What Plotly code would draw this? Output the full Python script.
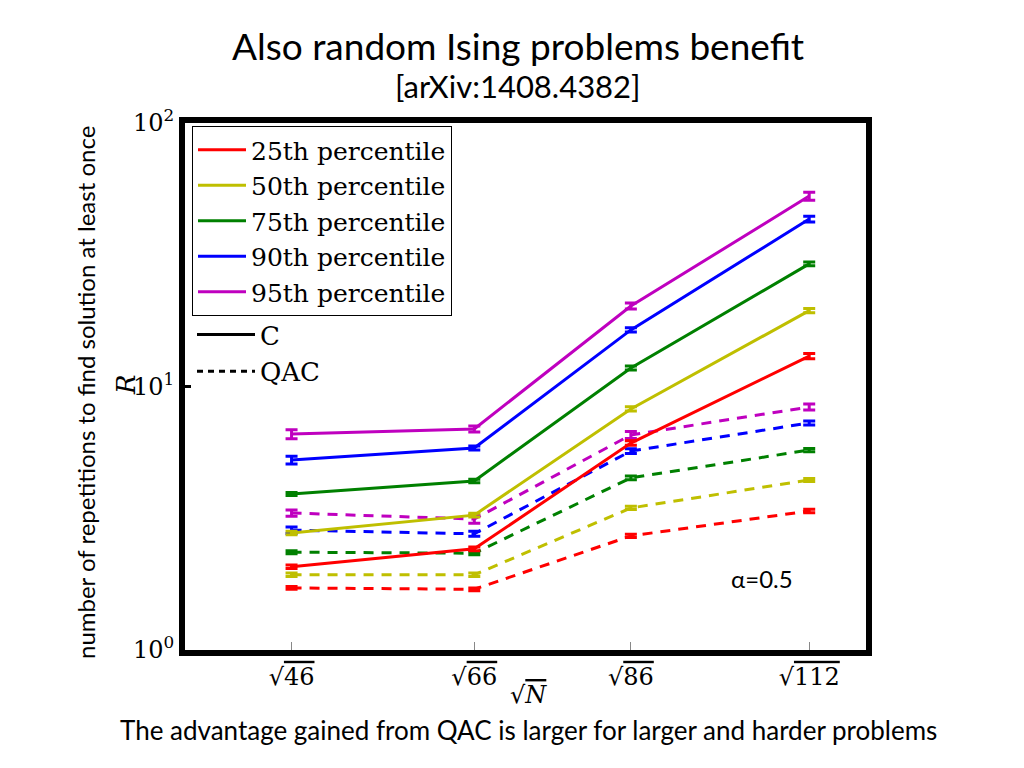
import numpy as np
import plotly.graph_objects as go

# ---- data ----
N_values = [46, 66, 86, 112]
tick_numbers = ["46", "66", "86", "112"]
percentiles = ["25th percentile", "50th percentile", "75th percentile", "90th percentile", "95th percentile"]
colors = ["#ff0000", "#bfbf00", "#008000", "#0000ff", "#bf00bf"]

C_25 = [2.07, 2.42, 6.1, 13.05]
C_50 = [2.78, 3.25, 8.22, 19.4]
C_75 = [3.91, 4.38, 11.75, 29.2]
C_90 = [5.26, 5.84, 16.4, 43.2]
C_95 = [6.6, 6.9, 20.2, 52.8]

C_25_err = [0.03, 0.04, 0.12, 0.3]
C_50_err = [0.04, 0.05, 0.15, 0.35]
C_75_err = [0.05, 0.07, 0.2, 0.5]
C_90_err = [0.18, 0.1, 0.3, 1.1]
C_95_err = [0.26, 0.18, 0.53, 1.85]

QAC_25 = [1.72, 1.70, 2.71, 3.37]
QAC_50 = [1.93, 1.93, 3.46, 4.42]
QAC_75 = [2.35, 2.33, 4.5, 5.74]
QAC_90 = [2.85, 2.76, 5.69, 7.27]
QAC_95 = [3.31, 3.14, 6.55, 8.36]

QAC_25_err = [0.02, 0.02, 0.04, 0.05]
QAC_50_err = [0.03, 0.03, 0.05, 0.06]
QAC_75_err = [0.03, 0.03, 0.07, 0.08]
QAC_90_err = [0.08, 0.06, 0.12, 0.13]
QAC_95_err = [0.09, 0.11, 0.2, 0.22]

C_series = [C_25, C_50, C_75, C_90, C_95]
C_errs = [C_25_err, C_50_err, C_75_err, C_90_err, C_95_err]
QAC_series = [QAC_25, QAC_50, QAC_75, QAC_90, QAC_95]
QAC_errs = [QAC_25_err, QAC_50_err, QAC_75_err, QAC_90_err, QAC_95_err]

x = np.sqrt(N_values)
OVL = "<span style='text-decoration:overline'>{}</span>"
tick_labels = ["√" + OVL.format(n) for n in tick_numbers]

SERIF = "DejaVu Serif"
SANS = "Lato"

# page has an 8px body margin; figure is sized so it fits the 1024x768 window
OFF = 8
W, H = 1024 - 2 * OFF, 768 - 2 * OFF
L, R, T, B = 185 - OFF, W - (866 - OFF), 123 - OFF, H - (650 - OFF)

fig = go.Figure()

for name, col, ys, es in zip(percentiles, colors, QAC_series, QAC_errs):
    fig.add_trace(go.Scatter(
        x=x, y=ys, mode="lines", name=name + " QAC", showlegend=False,
        line=dict(color=col, width=3, dash="10px,8px"),
        error_y=dict(type="data", array=es, visible=True, color=col, thickness=3, width=6),
    ))

for name, col, ys, es in zip(percentiles, colors, C_series, C_errs):
    fig.add_trace(go.Scatter(
        x=x, y=ys, mode="lines", name=name, legend="legend",
        line=dict(color=col, width=3),
        error_y=dict(type="data", array=es, visible=True, color=col, thickness=3, width=6),
    ))

fig.add_trace(go.Scatter(x=[None], y=[None], mode="lines", name="C", legend="legend2",
                         line=dict(color="black", width=3)))
fig.add_trace(go.Scatter(x=[None], y=[None], mode="lines", name="QAC", legend="legend2",
                         line=dict(color="black", width=3, dash="6px,5px")))

pw = W - L - R
ph = H - T - B
def px(xp):
    return (xp - OFF - L) / pw
def py(yp):
    return (H - B - (yp - OFF)) / ph

fig.update_layout(
    width=W, height=H,
    paper_bgcolor="white", plot_bgcolor="white",
    margin=dict(l=L, r=R, t=T, b=B),
    showlegend=True,
    legend=dict(
        x=px(192), y=py(126), xanchor="left", yanchor="top",
        bordercolor="black", borderwidth=1, bgcolor="white",
        font=dict(family=SERIF, size=25, color="black"),
        itemwidth=48, tracegroupgap=0,
    ),
    legend2=dict(
        x=px(192), y=py(311), xanchor="left", yanchor="top",
        borderwidth=0, bgcolor="rgba(0,0,0,0)",
        font=dict(family=SERIF, size=26, color="black"),
        itemwidth=58,
    ),
    xaxis=dict(
        range=[6, 11], tickvals=list(x), ticktext=tick_labels,
        showgrid=False, zeroline=False,
        showline=True, linecolor="black", linewidth=6, mirror=True,
        ticks="inside", ticklen=8, tickcolor="#888888", tickwidth=1,
        tickfont=dict(family=SERIF, size=24, color="black"),
    ),
    yaxis=dict(
        type="log", range=[0, 2],
        tickvals=[1, 10, 100], ticktext=["10<sup>0</sup>", "10<sup>1</sup>", "10<sup>2</sup>"],
        showgrid=False, zeroline=False,
        showline=True, linecolor="black", linewidth=6, mirror=True,
        ticks="inside", ticklen=6, tickcolor="black", tickwidth=3,
        tickfont=dict(family=SERIF, size=24, color="black"),
    ),
)

def ann(text, xp, yp, size, family=SANS, angle=0):
    return dict(text=text, x=px(xp), y=py(yp), xref="paper", yref="paper",
                xanchor="center", yanchor="middle", showarrow=False, textangle=angle,
                font=dict(family=family, size=size, color="black"))

fig.update_layout(annotations=[
    ann("Also random Ising problems benefit", 518, 45, 37),
    ann("[arXiv:1408.4382]", 518, 86, 31),
    ann("The advantage gained from QAC is larger for larger and harder problems", 528, 730, 26),
    ann("number of repetitions to find solution at least once", 85, 393, 24, angle=-90),
    ann("α=0.5", 762, 578, 24),
    ann("<i>R</i>", 126, 385, 26, family=SERIF, angle=-90),
    ann("√" + OVL.format("<i>N</i>"), 528, 695, 24, family=SERIF),
])

fig.write_html("out.html")
